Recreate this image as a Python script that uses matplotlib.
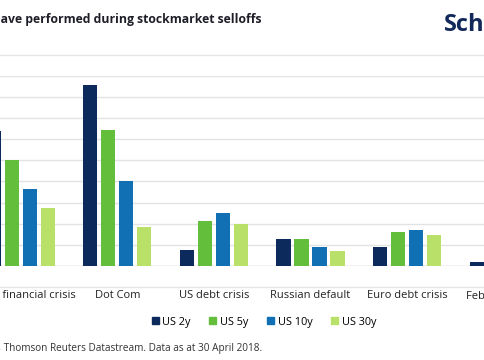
import matplotlib.pyplot as plt
import numpy as np
from matplotlib.lines import Line2D
from matplotlib.patches import Patch
import matplotlib.transforms as mtransforms

plt.rcParams["font.family"] = ["Open Sans", "DejaVu Sans"]

events = ["Global financial crisis", "Dot Com", "US debt crisis",
          "Russian default", "Euro debt crisis", "February 2018"]
series = ["US 2y", "US 5y", "US 10y", "US 30y"]
us_2y = [6.37, 8.56, 0.74, 1.26, 0.89, 0.18]
us_5y = [4.99, 6.45, 2.12, 1.26, 1.60, 1.10]
us_10y = [3.65, 4.01, 2.50, 0.89, 1.71, 1.30]
us_30y = [2.75, 1.83, 2.00, 0.71, 1.47, 1.20]
colors = ["#0c2b5c", "#63be3b", "#1070b3", "#b9e169"]

W, H = 485, 360
fig = plt.figure(figsize=(W / 100, H / 100), dpi=100)

# axes spans the full width, the chart is cropped on both sides
base_px, top_px = 266, 75.7
ax = fig.add_axes([0, 1 - base_px / H, 1, (base_px - top_px) / H])

step_px = 96.6
x0 = -20.7 / step_px

x = np.arange(len(events))
offs = np.array([-27, -9, 9, 27]) / step_px
bw = 14.3 / step_px
for vals, off, c, name in zip([us_2y, us_5y, us_10y, us_30y], offs, colors, series):
    ax.bar(x + off, vals, width=bw, color=c, label=name, zorder=3)

ax.set_yticks(np.arange(0, 10, 1))
ax.yaxis.grid(True, color="#e3e3e3", linewidth=1, zorder=0)
ax.tick_params(axis="y", length=0, labelleft=False)
for s in ["top", "right", "left", "bottom"]:
    ax.spines[s].set_visible(False)
ax.axhline(0, color="#d9d9d9", linewidth=1, zorder=2)

# last category sits past the right edge, so its label is a plain text
ax.set_xticks(x[:-1])
ax.set_xticklabels(events[:-1], fontsize=8.0, color="#222222")
ax.tick_params(axis="x", length=0, pad=17)
trans = mtransforms.blended_transform_factory(ax.transData, fig.transFigure)
ax.text(x[-1], 1 - 296 / H, events[-1], transform=trans, ha="center", va="center",
        fontsize=8.0, color="#222222", clip_on=False)

# limits last, set_xticks would widen them
ax.set_xlim(x0, x0 + W / step_px)
ax.set_ylim(0, 9)

# separator lines
for ypx in [55, 287]:
    fig.add_artist(Line2D([0, 1], [1 - ypx / H] * 2, color="#e6e6e6", linewidth=1))

fig.text(262 / W, 1 - 20 / H, "How bonds have performed during stockmarket selloffs",
         ha="right", va="center", fontsize=8.8, fontweight="bold", color="#1e1e28")
fig.text(444 / W, 1 - 25 / H, "Schroders", ha="left", va="center",
         fontsize=17, fontweight="bold", color="#13285a")

handles = [Patch(color=c, label=n) for c, n in zip(colors, series)]
fig.legend(handles=handles, loc="center", bbox_to_anchor=(264 / W, 1 - 322 / H),
           ncol=4, frameon=False, fontsize=7.8, handlelength=0.65, handleheight=0.65,
           handletextpad=0.35, columnspacing=1.7)

fig.text(262 / W, 1 - 348 / H,
         "Source: Schroders, Thomson Reuters Datastream. Data as at 30 April 2018.",
         ha="right", va="center", fontsize=7.2, color="#333333")

fig.savefig("out.png", dpi=100)
